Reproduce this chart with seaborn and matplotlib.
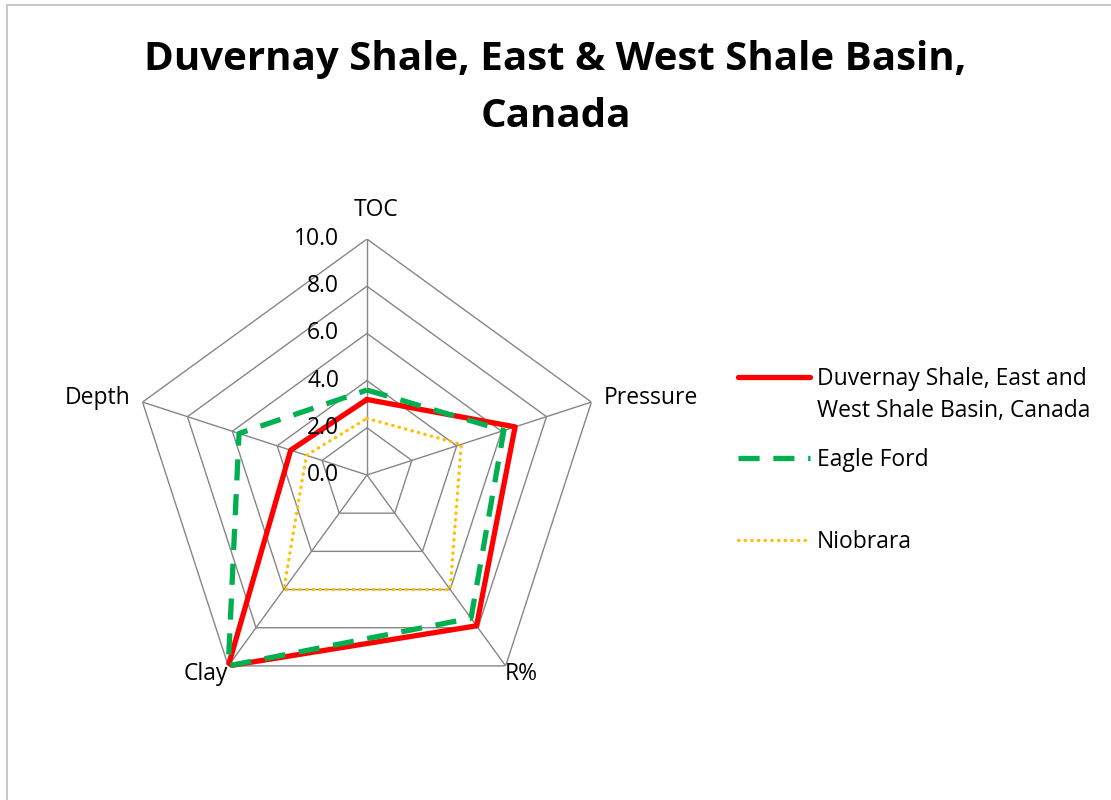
import numpy as np
import pandas as pd
import seaborn as sns
import matplotlib.pyplot as plt
from matplotlib.lines import Line2D

# data
categories = ['TOC', 'Pressure', 'R%', 'Clay', 'Depth']
duvernay = [3.2, 6.6, 7.9, 10.0, 3.4]
eagle_ford = [3.6, 6.1, 7.5, 10.0, 5.7]
niobrara = [2.4, 4.2, 6.0, 6.0, 2.7]
tick_values = [0.0, 2.0, 4.0, 6.0, 8.0, 10.0]
series_names = ['Duvernay Shale, East and\nWest Shale Basin, Canada', 'Eagle Ford', 'Niobrara']

sns.set_theme(style='white')
plt.rcParams['font.family'] = ['Open Sans', 'DejaVu Sans']
plt.rcParams['text.color'] = 'black'

fig = plt.figure(figsize=(11.11, 8), dpi=100)
ax = fig.add_axes([0.3303 - 0.2124, 0.40625 - 0.295, 0.4248, 0.59], projection='polar')
ax.set_theta_zero_location('N')
ax.set_theta_direction(-1)

angles = np.arange(len(categories)) * 2 * np.pi / len(categories)
closed = np.append(angles, angles[0])

# pentagon grid
for r in tick_values[1:]:
    ax.plot(closed, [r] * len(closed), color='#868686', lw=1, zorder=1)
for a in angles:
    ax.plot([a, a], [0, 10], color='#868686', lw=1, zorder=1)

styles = [
    dict(color='#FF0000', lw=3.8, ls='-'),
    dict(color='#00B050', lw=3.8, ls=(0, (4, 2.6))),
    dict(color='#FFC000', lw=2.4, ls=(0, (0.1, 1.9)), dash_capstyle='round'),
]
for name, vals, st in zip(series_names, [duvernay, eagle_ford, niobrara], styles):
    df = pd.DataFrame({'theta': closed, 'r': np.append(vals, vals[0])})
    sns.lineplot(data=df, x='theta', y='r', sort=False, estimator=None, ax=ax,
                 zorder=3, legend=False, **st)

ax.set_ylim(0, 10)
ax.set_xticks(angles)
ax.set_xticklabels([])
ax.set_yticks([])
ax.grid(False)
ax.spines['polar'].set_visible(False)
ax.set_xlabel('')
ax.set_ylabel('')

# value labels along the TOC axis
for v in tick_values:
    ax.annotate(f'{v:.1f}', xy=(0, v), xytext=(-20, 0), textcoords='offset points',
                ha='right', va='center', fontsize=16.5)

# category labels
offsets = [(6.5, 21, 'center'), (8.6, 3, 'left'), (11.5, -6, 'center'),
           (-16, -6, 'center'), (-8.6, 3, 'right')]
for a, lab, (dx, dy, ha) in zip(angles, categories, offsets):
    ax.annotate(lab, xy=(a, 10), xytext=(dx, dy), textcoords='offset points',
                ha=ha, va='center', fontsize=16.5)

fig.suptitle('Duvernay Shale, East & West Shale Basin,\nCanada', fontsize=29,
             fontweight='bold', y=0.95, linespacing=1.6)

# legend, laid out like the spreadsheet legend
legend_y = [0.529, 0.4275, 0.325]
for name, st, y in zip(series_names, styles, legend_y):
    fig.add_artist(Line2D([0.664, 0.729], [y, y], **st))
    fig.text(0.7354, y + 0.012, name, ha='left', va='top', fontsize=16.5, linespacing=1.45)

# outer chart border
fig.add_artist(Line2D([0.0063, 0.0063], [0, 0.994], color='#BFBFBF', lw=1.2))
fig.add_artist(Line2D([0.0063, 1], [0.994, 0.994], color='#BFBFBF', lw=1.2))

fig.savefig('out.png', dpi=100)
